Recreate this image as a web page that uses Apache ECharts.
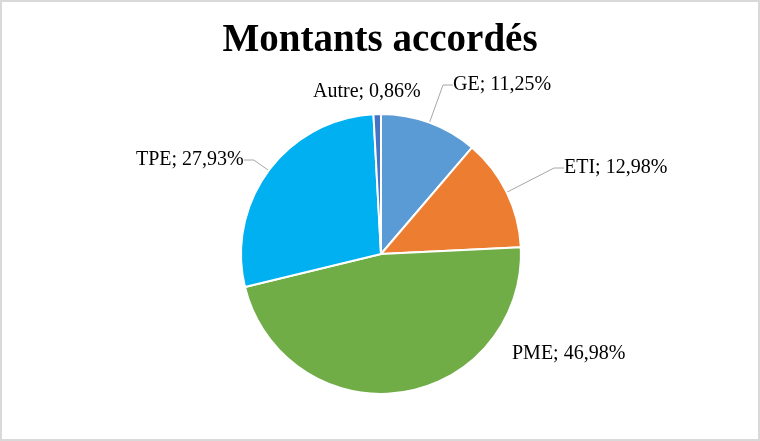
<!DOCTYPE html>
<html><head><meta charset="utf-8">
<script src="https://cdn.jsdelivr.net/npm/echarts@6/dist/echarts.min.js"></script>
<style>
html,body{margin:0;padding:0;background:#fff;}
#c{width:760px;height:441px;box-sizing:border-box;border:2px solid #d9d9d9;}
</style></head>
<body><div id="c"></div>
<script>
const categories = ['GE', 'ETI', 'PME', 'TPE', 'Autre'];
const values = [11.25, 12.98, 46.98, 27.93, 0.86];
const colors = ['#5B9BD5', '#ED7D31', '#70AD47', '#00B0F0', '#4472C4'];
const showLine = [true, true, false, true, false];
// label anchor positions (left edge x, center y) in chart pixels
const labelPos = [[451, 83], [562, 166], [510, 352], [134, 158], [311, 90]];

const fontFam = '"Palatino Linotype","Book Antiqua",Palatino,"Liberation Serif",serif';
const chart = echarts.init(document.getElementById('c'), null, {renderer: 'canvas'});
chart.setOption({
  animation: false,
  title: {
    text: 'Montants accordés', left: 'center', top: 14,
    textStyle: {fontFamily: fontFam, fontWeight: 'bold', fontSize: 39, color: '#000'}
  },
  series: [{
    type: 'pie',
    center: [379, 252],
    radius: 140,
    startAngle: 90,
    clockwise: true,
    itemStyle: {borderColor: '#fff', borderWidth: 2},
    label: {
      show: true, position: 'outside',
      formatter: p => p.name + '; ' + p.value.toFixed(2).replace('.', ',') + '%',
      fontFamily: fontFam, fontSize: 20, color: '#000'
    },
    labelLine: {show: true, lineStyle: {color: '#a6a6a6', width: 1}, length: 10, length2: 10},
    labelLayout: function (params) {
      const i = params.dataIndex;
      return {x: labelPos[i][0], y: labelPos[i][1], align: 'left', verticalAlign: 'middle'};
    },
    data: categories.map((n, i) => ({
      name: n, value: values[i],
      itemStyle: {color: colors[i]},
      labelLine: {show: showLine[i]}
    }))
  }]
});
</script></body></html>
